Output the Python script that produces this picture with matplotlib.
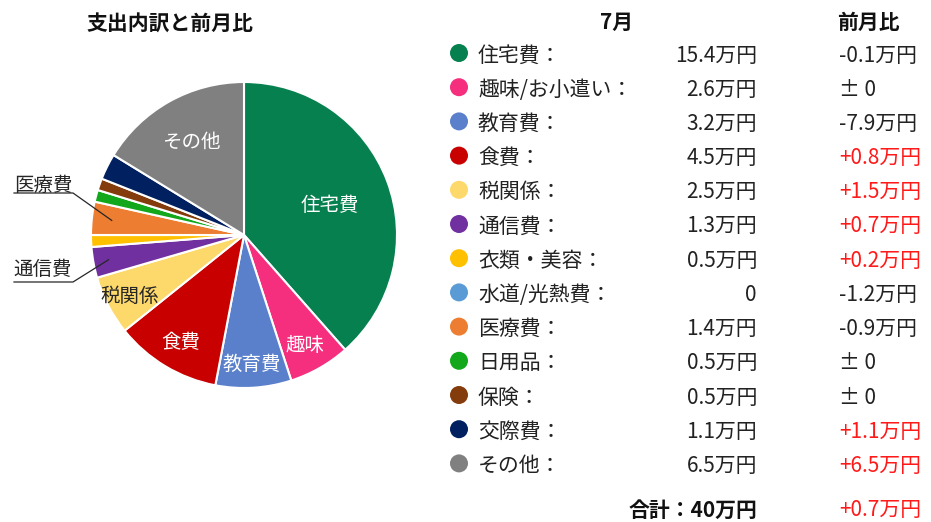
import numpy as np
import matplotlib
matplotlib.use("Agg")
import matplotlib.pyplot as plt
from matplotlib.patches import Circle

plt.rcParams['font.family'] = ['Noto Sans CJK JP', 'DejaVu Sans']

# data
categories = ['住宅費', '趣味/お小遣い', '教育費', '食費', '税関係', '通信費', '衣類・美容',
              '水道/光熱費', '医療費', '日用品', '保険', '交際費', 'その他']
july = [15.4, 2.6, 3.2, 4.5, 2.5, 1.3, 0.5, 0.0, 1.4, 0.5, 0.5, 1.1, 6.5]
diff = [-0.1, 0.0, -7.9, 0.8, 1.5, 0.7, 0.2, -1.2, -0.9, 0.0, 0.0, 1.1, 6.5]
total_diff = 0.7
colors = ['#07804F', '#F52E7D', '#5A7FCB', '#C80000', '#FDD86A', '#7030A0', '#FFC000',
          '#5B9BD5', '#ED7D31', '#13A81B', '#843C0C', '#002060', '#808080']

# labels drawn inside the pie (name, radius fraction, text color)
inner_labels = {'住宅費': ('住宅費', 0.60, 'white'),
                '趣味/お小遣い': ('趣味', 0.81, 'white'),
                '教育費': ('教育費', 0.83, 'white'),
                '食費': ('食費', 0.80, 'white'),
                '税関係': ('税関係', 0.84, '#262626'),
                'その他': ('その他', 0.71, 'white')}
# labels drawn outside with a leader line (text y in px, underline y in px, line end fraction)
outer_labels = {'医療費': (183, 193, 0.87),
                '通信費': (267, 282, 0.90)}

W, H = 931, 522
fig = plt.figure(figsize=(W / 100, H / 100), dpi=100)
ax = fig.add_axes([0, 0, 1, 1])

cx, cy, r = 244, H - 235, 153
DY = 2.5  # text baseline nudge


def Y(py):
    return H - py - DY


wedges, _ = ax.pie(july, colors=colors, startangle=90, counterclock=False,
                   center=(cx, cy), radius=r,
                   wedgeprops=dict(edgecolor='white', linewidth=1.5))

# angle of each wedge middle
total = sum(july)
cum = np.cumsum([0] + july)
mid_angles = [np.deg2rad(90 - (cum[i] + july[i] / 2) / total * 360) for i in range(len(july))]

for i, cat in enumerate(categories):
    if cat in inner_labels:
        txt, frac, col = inner_labels[cat]
        ax.text(cx + frac * r * np.cos(mid_angles[i]), cy + frac * r * np.sin(mid_angles[i]) - DY,
                txt, ha='center', va='center', fontsize=14, color=col)
    if cat in outer_labels:
        ty, uy, frac = outer_labels[cat]
        ex = cx + frac * r * np.cos(mid_angles[i])
        ey = cy + frac * r * np.sin(mid_angles[i])
        ax.plot([14, 73, ex], [H - uy, H - uy, ey], color='#262626', lw=0.9)
        ax.text(43, Y(ty), cat, ha='center', va='center', fontsize=14, color='#262626')

ax.text(170, Y(22), '支出内訳と前月比', ha='center', va='center', fontsize=15,
        fontweight='bold', color='#111111')

# table
ax.text(617, Y(20), '7月', ha='center', va='center', fontsize=15, fontweight='bold', color='#111111')
ax.text(868, Y(20), '前月比', ha='center', va='center', fontsize=15, fontweight='bold', color='#111111')

row0, step = 53, 34.2
for i, cat in enumerate(categories):
    y = Y(row0 + i * step)
    ax.add_patch(Circle((459, y + DY), 9, color=colors[i], ec='none'))
    ax.text(478, y, cat + '：', ha='left', va='center', fontsize=15, color='#222222')
    v = july[i]
    vtxt = '0' if v == 0 else f'{v:.1f}万円'
    ax.text(757, y, vtxt, ha='right', va='center', fontsize=15, color='#222222')
    d = diff[i]
    if d == 0:
        dtxt, dcol = '± 0', '#222222'
    elif d > 0:
        dtxt, dcol = f'+{d:.1f}万円', '#FF1A1A'
    else:
        dtxt, dcol = f'{d:.1f}万円', '#222222'
    ax.text(839, y, dtxt, ha='left', va='center', fontsize=15, color=dcol)

ax.text(757, Y(508), f'合計：{total:g}万円', ha='right', va='center', fontsize=15,
        fontweight='bold', color='#111111')
ax.text(839, Y(508), f'+{total_diff:.1f}万円', ha='left', va='center', fontsize=15, color='#FF1A1A')

ax.set_xlim(0, W)
ax.set_ylim(0, H)
ax.set_aspect('auto')
ax.axis('off')

fig.savefig('out.png', dpi=100)
